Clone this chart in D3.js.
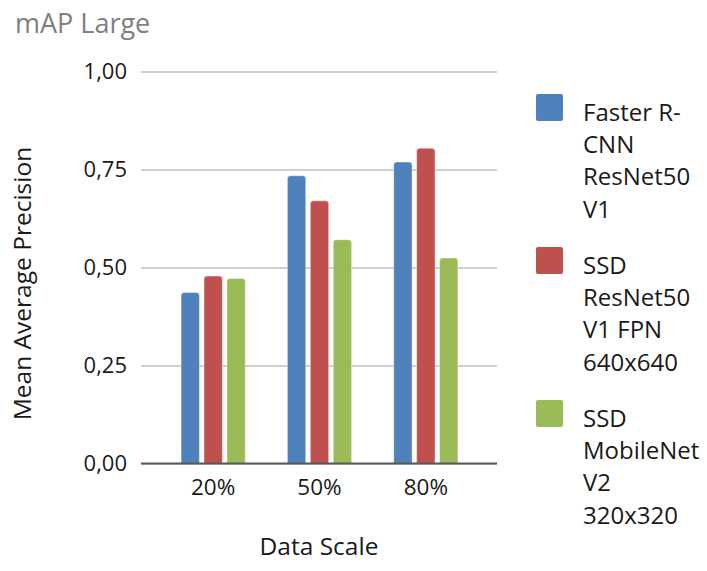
<!DOCTYPE html>
<html>
<head>
<meta charset="utf-8">
<script src="https://cdn.jsdelivr.net/npm/d3@7"></script>
<style>
  html, body { margin: 0; padding: 0; background: #fff; }
  svg { display: block; font-family: "Open Sans", sans-serif; }
</style>
</head>
<body>
<svg id="chart" width="707" height="571"></svg>
<script>
// Data
const categories = ["20%", "50%", "80%"];
const seriesNames = ["Faster R-CNN ResNet50 V1", "SSD ResNet50 V1 FPN 640x640", "SSD MobileNet V2 320x320"];
const legendLines = [
  ["Faster R-", "CNN", "ResNet50", "V1"],
  ["SSD", "ResNet50", "V1 FPN", "640x640"],
  ["SSD", "MobileNet", "V2", "320x320"]
];
const fasterRcnn = [0.436, 0.734, 0.769];
const ssdResnet = [0.478, 0.670, 0.804];
const ssdMobilenet = [0.472, 0.571, 0.524];
const yTicks = [0, 0.25, 0.5, 0.75, 1.0];
const colors = ["#4F81BD", "#C0504D", "#9BBB59"];

const seriesValues = [fasterRcnn, ssdResnet, ssdMobilenet];

const svg = d3.select("#chart");

// Plot geometry
const plotLeft = 141, plotRight = 497;
const y = d3.scaleLinear().domain([0, 1]).range([463.5, 71.5]);
const x0 = d3.scaleBand().domain(categories).range([160, 479]).paddingInner(0).paddingOuter(0);
const x1 = d3.scaleBand().domain(seriesNames).range([0, x0.bandwidth()]).paddingInner(0.2).paddingOuter(0.92);

const fmt = v => d3.format(".2f")(v).replace(".", ",");

// Title
svg.append("text")
  .attr("x", 15).attr("y", 33)
  .attr("fill", "#7f7f7f")
  .attr("font-size", 27)
  .text("mAP Large");

// Y axis with gridlines
const yAxis = d3.axisLeft(y)
  .tickValues(yTicks)
  .tickFormat(fmt)
  .tickSizeInner(-(plotRight - plotLeft))
  .tickSizeOuter(0)
  .tickPadding(14);

const gy = svg.append("g")
  .attr("transform", `translate(${plotLeft},0)`)
  .call(yAxis);
gy.select(".domain").remove();
gy.selectAll(".tick line").attr("stroke", "#d0d0d0").attr("stroke-width", 2);
gy.selectAll(".tick text")
  .attr("font-size", 22)
  .attr("fill", "#1a1a1a")
  .attr("font-family", "Open Sans, sans-serif");

// Bars with rounded tops
const r = 3;
function barPath(x, w, yTop, yBase) {
  return `M${x},${yBase}V${yTop + r}Q${x},${yTop} ${x + r},${yTop}H${x + w - r}Q${x + w},${yTop} ${x + w},${yTop + r}V${yBase}Z`;
}

const groups = svg.append("g").selectAll("g")
  .data(categories)
  .join("g")
  .attr("transform", d => `translate(${x0(d)},0)`);

groups.selectAll("path")
  .data((d, i) => seriesNames.map((s, j) => ({ s, j, v: seriesValues[j][i] })))
  .join("path")
  .attr("d", d => barPath(x1(d.s), x1.bandwidth(), y(d.v), y(0)))
  .attr("fill", d => colors[d.j])
  .attr("stroke", "#ffffff")
  .attr("stroke-opacity", 0.5)
  .attr("stroke-width", 0.8);

// Baseline
svg.append("line")
  .attr("x1", plotLeft).attr("x2", plotRight)
  .attr("y1", y(0)).attr("y2", y(0))
  .attr("stroke", "#595959").attr("stroke-width", 2);

// X axis labels
const xAxis = d3.axisBottom(x0).tickSize(0).tickPadding(16);
const gx = svg.append("g")
  .attr("transform", `translate(0,${y(0)})`)
  .call(xAxis);
gx.select(".domain").remove();
gx.selectAll(".tick text")
  .attr("font-size", 22.5)
  .attr("fill", "#1a1a1a")
  .attr("font-family", "Open Sans, sans-serif");

// Axis titles
svg.append("text")
  .attr("x", (plotLeft + plotRight) / 2).attr("y", 555)
  .attr("text-anchor", "middle")
  .attr("font-size", 24.5)
  .attr("fill", "#1a1a1a")
  .text("Data Scale");

svg.append("text")
  .attr("transform", `translate(31,${(y(0) + y(1)) / 2 + 16}) rotate(-90)`)
  .attr("text-anchor", "middle")
  .attr("font-size", 24.5)
  .attr("fill", "#1a1a1a")
  .text("Mean Average Precision");

// Legend
const legend = svg.append("g").selectAll("g")
  .data(seriesNames)
  .join("g")
  .attr("transform", (d, i) => `translate(536,${94 + i * 153})`);

legend.append("rect")
  .attr("width", 27).attr("height", 27)
  .attr("rx", 2)
  .attr("fill", (d, i) => colors[i]);

legend.append("text")
  .attr("font-size", 24)
  .attr("fill", "#1a1a1a")
  .selectAll("tspan")
  .data((d, i) => legendLines[i])
  .join("tspan")
  .attr("x", 47)
  .attr("y", (d, k) => 27 + k * 32.2)
  .text(d => d);
</script>
</body>
</html>
